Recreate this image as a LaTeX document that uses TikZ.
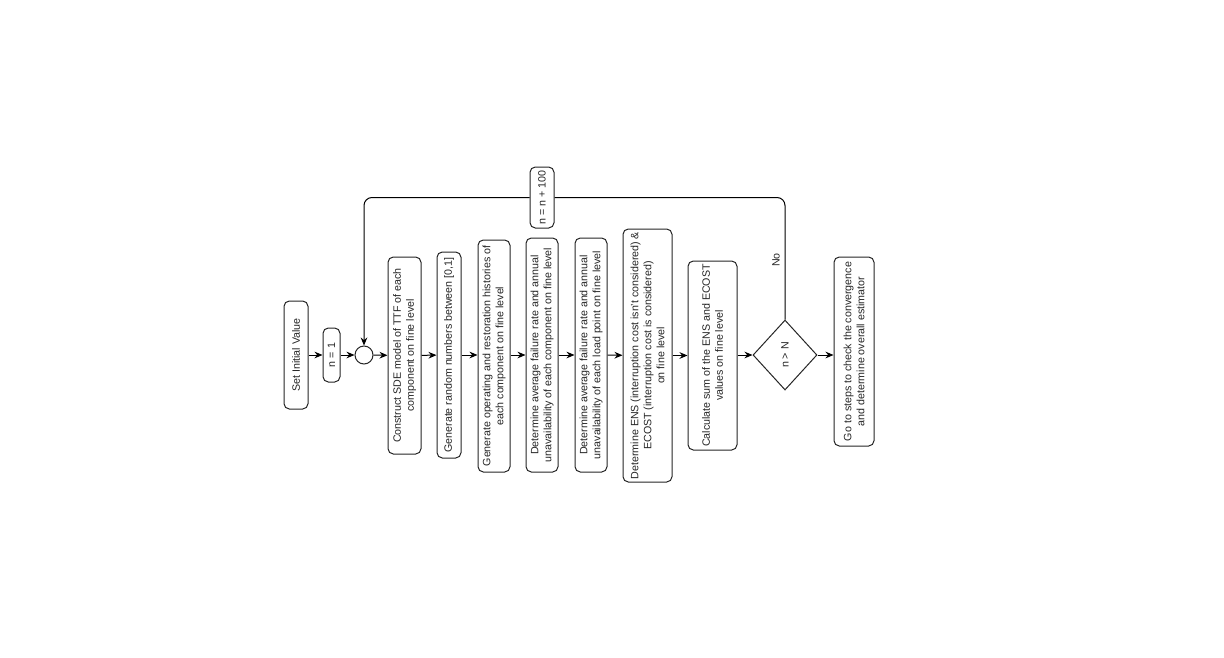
\documentclass[tikz,border=0pt]{standalone}
\usepackage{fontspec}
\setmainfont{Liberation Sans}
\usetikzlibrary{shapes.geometric,arrows.meta}
\begin{document}
\begin{tikzpicture}[x=0.75pt,y=-0.75pt,
  every node/.style={font=\fontsize{8}{9.75}\selectfont, text=black!85},
  box/.style={draw=black!85, line width=0.75pt, rounded corners=4pt, rotate=90, align=center, inner sep=1pt},
  flow/.style={draw=black, line width=0.75pt, -{Stealth[length=6pt,width=5pt]}},
  plain/.style={draw=black, line width=0.75pt}
]
\useasboundingbox[fill=white] (0,0) rectangle (1224,657);

\node[box, minimum width=108*0.75pt, minimum height=24*0.75pt] (s0) at (296,355) {Set Initial Value};
\node[box, minimum width=54*0.75pt, minimum height=17*0.75pt] (s1) at (331.5,355) {n = 1};
\node[draw=black!85, line width=0.75pt, circle, minimum size=18*0.75pt, inner sep=0pt] (c) at (364,355) {};
\node[box, minimum width=197*0.75pt, minimum height=33*0.75pt] (s2) at (404.5,355.5) {Construct SDE model of TTF of each\\component on fine level};
\node[box, minimum width=206*0.75pt, minimum height=24*0.75pt] (s3) at (449,355) {Generate random numbers between [0,1]};
\node[box, minimum width=232*0.75pt, minimum height=32*0.75pt] (s4) at (494,356) {Generate operating and restoration histories of\\each component on fine level};
\node[box, minimum width=234*0.75pt, minimum height=32*0.75pt] (s5) at (542,355) {Determine average failure rate and annual\\unavailability of each component on fine level};
\node[box, minimum width=234*0.75pt, minimum height=32*0.75pt] (s6) at (591,355) {Determine average failure rate and annual\\unavailability of each load point on fine level};
\node[box, minimum width=253*0.75pt, minimum height=49*0.75pt] (s7) at (647.5,355.5) {Determine ENS (interruption cost isn't considered) \&\\ECOST (interruption cost is considered)\\on fine level};
\node[box, minimum width=189*0.75pt, minimum height=49*0.75pt] (s8) at (712.5,355.5) {Calculate sum of the ENS and ECOST\\values on fine level};
\node[draw=black!85, line width=0.75pt, diamond, rotate=90, minimum width=70*0.75pt, minimum height=64*0.75pt, inner sep=0pt] (d) at (785,355) {n {\textgreater} N};
\node[box, minimum width=189*0.75pt, minimum height=40*0.75pt] (s9) at (854,351.5) {Go to steps to check the convergence\\and determine overall estimator};
\node[box, minimum width=61*0.75pt, minimum height=24*0.75pt, fill=white] (inc) at (542,197.5) {n = n + 100};

\draw[flow] (s0) -- (s1);
\draw[flow] (s1) -- (c);
\draw[flow] (c) -- (s2);
\draw[flow] (s2) -- (s3);
\draw[flow] (s3) -- (s4.north |- s3.center);
\draw[flow] (s4.south |- s3.center) -- (s5.north |- s3.center);
\draw[flow] (s5) -- (s6);
\draw[flow] (s6) -- (s7);
\draw[flow] (s7) -- (s8);
\draw[flow] (s8.south |- d.north) -- (d.north);
\draw[flow] (d.south) -- (s9.north |- d.south);

\draw[plain, rounded corners=6pt] (d.east) -- (d.east |- inc.center) -- (inc.south);
\draw[flow, rounded corners=6pt] (inc.north) -- (c.north |- inc.center) -- (c.north);
\node[rotate=90] (no) at (776,260) {No};
\end{tikzpicture}
\end{document}
